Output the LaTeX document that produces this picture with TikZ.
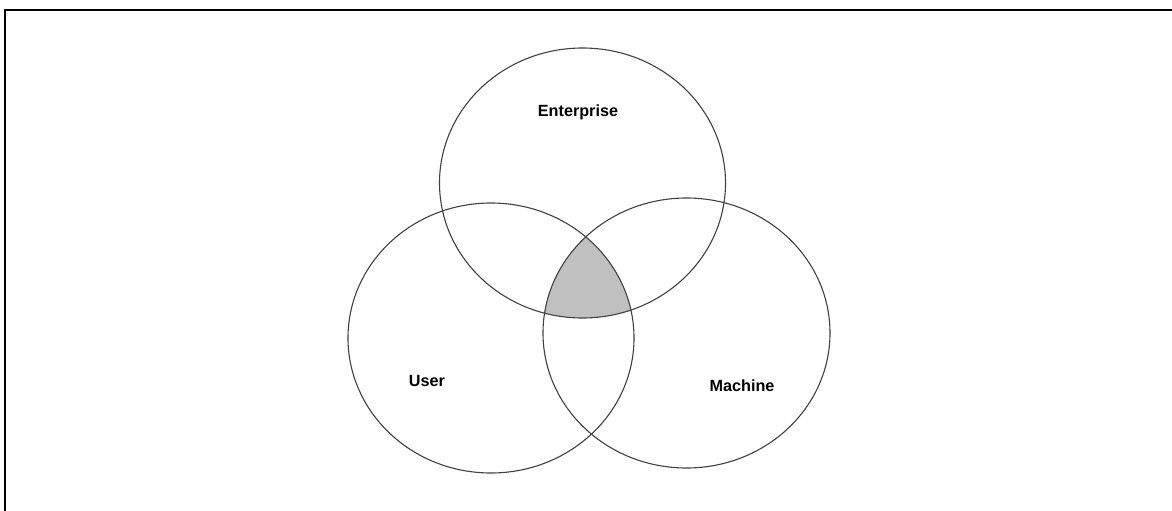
\documentclass[tikz,border=0pt]{standalone}
\usepackage{fontspec}
\setmainfont{Liberation Sans}
\begin{document}
\begin{tikzpicture}[x=1pt,y=-1pt,
  setline/.style={draw=black!75,line width=1.1pt},
  setlabel/.style={font=\bfseries\fontsize{16.2}{19}\selectfont,inner sep=0pt},
  framestroke/.style={draw=black,line width=2.2pt,line cap=butt}]
  \useasboundingbox (0,0) rectangle (1172,511);
  % partial frame: top and left edges
  \draw[framestroke] (5,511) -- (5,10) -- (1172,10);
  % common area of the three sets
  \begin{scope}
    \clip (582.5,183) ellipse [x radius=143, y radius=135];
    \clip (491,338) ellipse [x radius=143, y radius=135];
    \fill[fill={rgb,255:red,192;green,192;blue,192}] (686.5,333) ellipse [x radius=143.5, y radius=135];
  \end{scope}
  % the three sets
  \draw[setline] (582.5,183) ellipse [x radius=143, y radius=135];
  \draw[setline] (491,338) ellipse [x radius=143, y radius=135];
  \draw[setline] (686.5,333) ellipse [x radius=143.5, y radius=135];
  % labels
  \node[setlabel] (enterprise) at (578,112) {Enterprise};
  \node[setlabel] (user) at (427,381) {User};
  \node[setlabel] (machine) at (742,386) {Machine};
\end{tikzpicture}
\end{document}
